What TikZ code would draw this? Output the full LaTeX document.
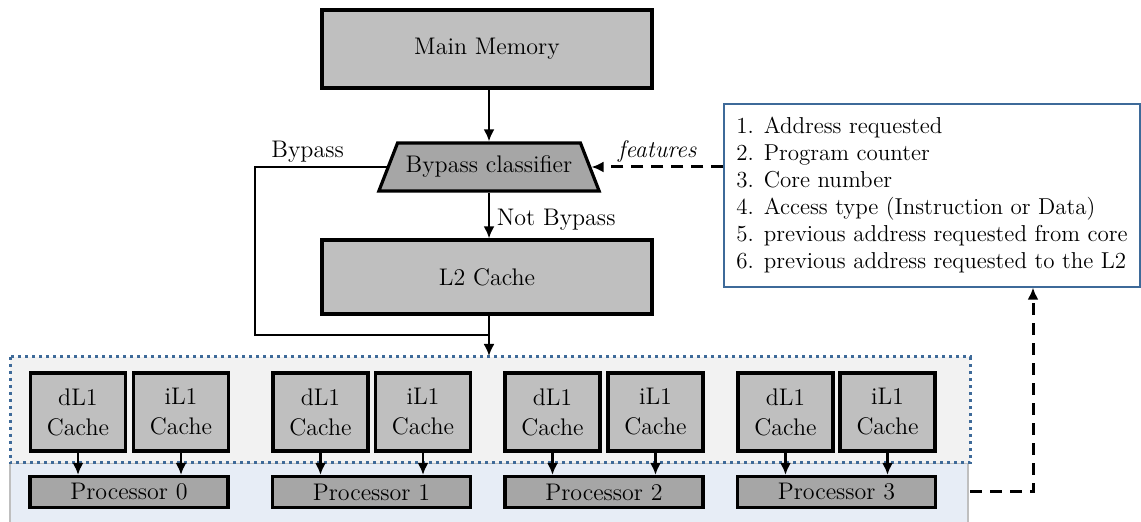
\documentclass[tikz,border=0pt]{standalone}
\usepackage{tikz}
\usetikzlibrary{shapes.geometric, arrows.meta}
\definecolor{boxgray}{HTML}{BFBFBF}
\definecolor{darkgray}{HTML}{A6A6A6}
\definecolor{dotblue}{HTML}{3E6A99}
\definecolor{paleblue}{HTML}{E7EDF6}
\definecolor{palegray}{HTML}{F2F2F2}
\begin{document}
\begin{tikzpicture}[x=0.5pt, y=-0.5pt, thick, font=\fontsize{12}{14}\selectfont]
				\tikzstyle{block}=[rectangle,draw=black,line width=1.6pt,fill=boxgray,inner sep=0pt]
				\tikzstyle{cache}=[block,minimum width=47.5pt,minimum height=39pt,align=center,font=\fontsize{12}{15}\selectfont]
				\tikzstyle{proc}=[block,fill=darkgray,minimum width=99pt,minimum height=15.5pt]
				\tikzstyle{link}=[-{Latex[length=6pt,width=5.5pt]}, line width=1.1pt, black]
				\tikzstyle{feedback}=[-{Latex[length=6pt,width=5.5pt]}, line width=1.5pt, dash pattern=on 6pt off 4pt]
				\tikzstyle{tag}=[inner sep=1.5pt]
				\useasboundingbox (0,0) rectangle (1141,522);
				
				% processor area and L1 area
				\fill[paleblue, draw=boxgray, line width=1pt] (10,463) rectangle (968,530);
				\draw[dotblue, fill=palegray, line width=1.5pt, dotted] (10,357) rectangle (970,463);
				
				\node[block] (Main-Memory) at (487,49) [minimum width=165pt, minimum height=39pt] {Main Memory};
				\node[trapezium, trapezium left angle=52, trapezium right angle=52, trapezium stretches=true, draw=black, line width=1.6pt, fill=darkgray, minimum width=111pt, minimum height=24pt, inner sep=0pt] (Classifier) at (489,167) {Bypass classifier};
				\node[block] (L2-Cache) at (487,277) [minimum width=165pt, minimum height=37pt] {L2 Cache};
				
				\node[rectangle, draw=dotblue, line width=0.6pt, fill=white, minimum width=208pt, minimum height=91.5pt, align=left, font=\fontsize{11.5}{13.5}\selectfont] (Features) at (932,195.5) {1. Address requested\\2. Program counter\\3. Core number\\4. Access type (Instruction or Data)\\5. previous address requested from core\\6. previous address requested to the L2};
				
				\node[cache] (dL1-0) at (78,412) {dL1\\Cache};
				\node[cache] (iL1-0) at (181,412) {iL1\\Cache};
				\node[cache] (dL1-1) at (320.5,412) {dL1\\Cache};
				\node[cache] (iL1-1) at (423,412) {iL1\\Cache};
				\node[cache] (dL1-2) at (552.5,412) {dL1\\Cache};
				\node[cache] (iL1-2) at (655.5,412) {iL1\\Cache};
				\node[cache] (dL1-3) at (785.5,412) {dL1\\Cache};
				\node[cache] (iL1-3) at (887.5,412) {iL1\\Cache};
				
				\node[proc] (Proc-0) at (129,492) {Processor 0};
				\node[proc] (Proc-1) at (371.5,492) {Processor 1};
				\node[proc] (Proc-2) at (604,492) {Processor 2};
				\node[proc] (Proc-3) at (836.5,492) {Processor 3};
				
				\coordinate (L1-Top) at (489,356);
				\coordinate (Bypass-Turn) at (255,335);
				\coordinate (Feedback-Start) at (970,492);
				\coordinate (Feedback-Turn) at (1033,492);
				
				\draw[link] (Main-Memory.south -| Classifier.north) -- (Classifier.north);
				\draw[link] (Classifier.south) -- node[right, pos=0.6, black] {Not Bypass} (L2-Cache.north -| Classifier.south);
				\draw[link] (L2-Cache.south -| L1-Top) -- (L1-Top);
				\draw[line width=1.1pt] (Classifier.west) -| node[above, tag, pos=0.3] {Bypass} (Bypass-Turn) -- (Bypass-Turn -| L1-Top);
				
				\draw[feedback] (Features.west |- Classifier.east) -- node[above, tag] {\textit{features}} (Classifier.east);
				\draw[feedback] (Feedback-Start) -- (Feedback-Turn) -- (Feedback-Turn |- Features.south);
				
				\draw[link] (dL1-0) -- (dL1-0 |- Proc-0.north);
				\draw[link] (iL1-0) -- (iL1-0 |- Proc-0.north);
				\draw[link] (dL1-1) -- (dL1-1 |- Proc-1.north);
				\draw[link] (iL1-1) -- (iL1-1 |- Proc-1.north);
				\draw[link] (dL1-2) -- (dL1-2 |- Proc-2.north);
				\draw[link] (iL1-2) -- (iL1-2 |- Proc-2.north);
				\draw[link] (dL1-3) -- (dL1-3 |- Proc-3.north);
				\draw[link] (iL1-3) -- (iL1-3 |- Proc-3.north);
				\end{tikzpicture}
\end{document}
